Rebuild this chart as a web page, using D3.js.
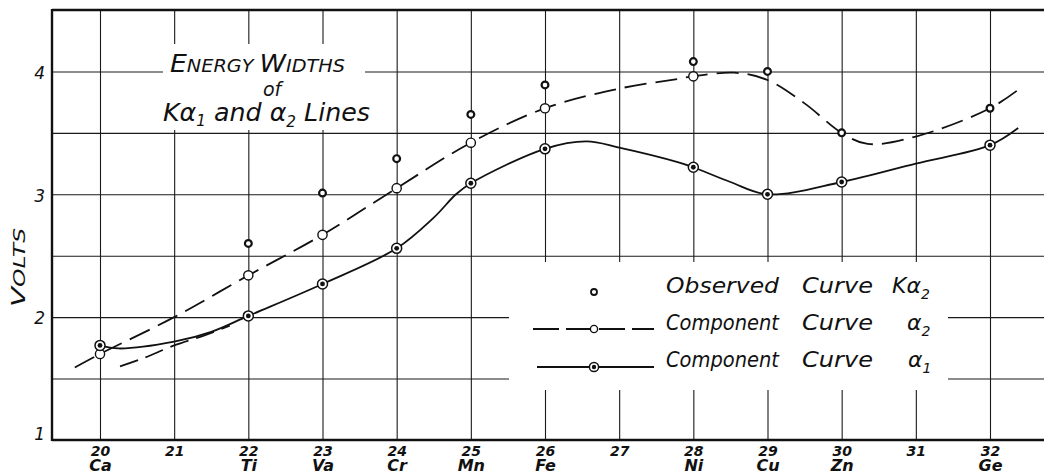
<!DOCTYPE html>
<html>
<head>
<meta charset="utf-8">
<script src="https://cdn.jsdelivr.net/npm/d3@7"></script>
<style>
body { margin: 0; background: #fff; }
svg { display: block; }
text { font-family: "DejaVu Sans", sans-serif; font-style: italic; fill: #111; }
</style>
</head>
<body>
<div class="container"></div>
<script>
// atomic numbers along the bottom and the element under each
var atomicNumbers = [20, 21, 22, 23, 24, 25, 26, 27, 28, 29, 30, 31, 32];
var symbols = ["Ca", "", "Ti", "Va", "Cr", "Mn", "Fe", "", "Ni", "Cu", "Zn", "", "Ge"];
var voltTicks = [1, 2, 3, 4];
var gridVolts = [1.5, 2, 2.5, 3, 3.5, 4];

// observed K alpha 2 widths
var observedZ = [22, 23, 24, 25, 26, 28, 29, 30, 32];
var observedV = [2.60, 3.01, 3.29, 3.65, 3.89, 4.08, 4.00, 3.50, 3.70];

// component alpha 2 points
var alpha2Z = [20, 22, 23, 24, 25, 26, 28];
var alpha2V = [1.70, 2.34, 2.67, 3.05, 3.42, 3.70, 3.96];

// component alpha 1 points
var alpha1Z = [20, 22, 23, 24, 25, 26, 28, 29, 30, 32];
var alpha1V = [1.77, 2.01, 2.27, 2.56, 3.09, 3.37, 3.22, 3.00, 3.10, 3.40];

// the drawn curves
var curve2Z = [19.66, 20, 21, 22, 23, 24, 25, 26, 27, 27.8, 28, 28.55, 29, 29.5, 30, 30.35, 31, 32, 32.4];
var curve2V = [1.59, 1.70, 2.00, 2.34, 2.67, 3.05, 3.42, 3.70, 3.86, 3.94, 3.96, 3.99, 3.93, 3.74, 3.50, 3.41, 3.47, 3.70, 3.86];
var curve2bZ = [20.27, 20.6, 21, 21.4, 21.75];
var curve2bV = [1.60, 1.67, 1.77, 1.85, 1.93];
var curve1Z = [20, 20.25, 21, 21.5, 22, 23, 24, 24.5, 24.8, 25, 26, 26.56, 27, 27.8, 28, 28.5, 29, 30, 31, 32, 32.38];
var curve1V = [1.77, 1.745, 1.80, 1.88, 2.01, 2.27, 2.56, 2.81, 3.00, 3.09, 3.37, 3.43, 3.38, 3.26, 3.22, 3.10, 3.00, 3.10, 3.25, 3.40, 3.54];

var W = 1044, H = 474;
var padL = 52, padT = 10, padB = 440, padR = 1044;

var svg = d3.select(".container").append("svg")
    .attr("width", W)
    .attr("height", H);

svg.append("rect").attr("width", W).attr("height", H).attr("fill", "#fff");

var x = d3.scaleLinear().domain([20, 32]).range([100, 990]);
var y = d3.scaleLinear().domain([1, 4.5]).range([padB, padT]);

function pairs(zs, vs) {
    return zs.map(function (z, i) { return [z, vs[i]]; });
}

// grid
svg.append("g")
    .attr("transform", "translate(0," + padB + ")")
    .call(d3.axisBottom(x).tickValues(atomicNumbers).tickSize(-(padB - padT)).tickFormat(""))
    .call(function (g) { g.select(".domain").remove(); })
    .selectAll("line").attr("stroke", "#1a1a1a").attr("stroke-width", 1.1);

svg.append("g")
    .attr("transform", "translate(" + padL + ",0)")
    .call(d3.axisLeft(y).tickValues(gridVolts).tickSize(-(padR - padL)).tickFormat(""))
    .call(function (g) { g.select(".domain").remove(); })
    .selectAll("line").attr("stroke", "#1a1a1a").attr("stroke-width", 1.1);

// white patches behind the title and the key
svg.append("rect").attr("x", 163).attr("y", 44).attr("width", 202).attr("height", 86).attr("fill", "#fff");
svg.append("rect").attr("x", 509).attr("y", 262).attr("width", 439).attr("height", 128).attr("fill", "#fff");

// frame
svg.append("line").attr("x1", padL).attr("x2", padL).attr("y1", padT - 1).attr("y2", padB + 1)
    .attr("stroke", "#111").attr("stroke-width", 2.4);
svg.append("line").attr("x1", padL).attr("x2", padR).attr("y1", padT).attr("y2", padT)
    .attr("stroke", "#111").attr("stroke-width", 2.4);
svg.append("line").attr("x1", padL).attr("x2", padR).attr("y1", padB).attr("y2", padB)
    .attr("stroke", "#111").attr("stroke-width", 2.4);

// curves
var line = d3.line()
    .x(function (d) { return x(d[0]); })
    .y(function (d) { return y(d[1]); })
    .curve(d3.curveCatmullRom.alpha(0.5));

svg.append("path").datum(pairs(curve2Z, curve2V))
    .attr("d", line).attr("fill", "none").attr("stroke", "#111")
    .attr("stroke-width", 1.8).attr("stroke-dasharray", "22,9");
svg.append("path").datum(pairs(curve2bZ, curve2bV))
    .attr("d", line).attr("fill", "none").attr("stroke", "#111")
    .attr("stroke-width", 1.8).attr("stroke-dasharray", "19,8");
svg.append("path").datum(pairs(curve1Z, curve1V))
    .attr("d", line).attr("fill", "none").attr("stroke", "#111")
    .attr("stroke-width", 1.8);

// points
svg.selectAll(".obs").data(pairs(observedZ, observedV)).enter().append("circle")
    .attr("class", "obs")
    .attr("cx", function (d) { return x(d[0]); })
    .attr("cy", function (d) { return y(d[1]); })
    .attr("r", 3.4).attr("fill", "#fff").attr("stroke", "#111").attr("stroke-width", 2.2);

svg.selectAll(".a2").data(pairs(alpha2Z, alpha2V)).enter().append("circle")
    .attr("class", "a2")
    .attr("cx", function (d) { return x(d[0]); })
    .attr("cy", function (d) { return y(d[1]); })
    .attr("r", 4.6).attr("fill", "#fff").attr("stroke", "#111").attr("stroke-width", 1.4);

var a1 = svg.selectAll(".a1").data(pairs(alpha1Z, alpha1V)).enter().append("g")
    .attr("class", "a1")
    .attr("transform", function (d) { return "translate(" + x(d[0]) + "," + y(d[1]) + ")"; });
a1.append("circle").attr("r", 5).attr("fill", "#fff").attr("stroke", "#111").attr("stroke-width", 1.5);
a1.append("circle").attr("r", 2.4).attr("fill", "#111");

// tick labels
var xNum = svg.append("g")
    .attr("transform", "translate(0," + padB + ")")
    .call(d3.axisBottom(x).tickValues(atomicNumbers).tickSize(0).tickPadding(6).tickFormat(d3.format("d")));
xNum.select(".domain").remove();
xNum.selectAll("text").attr("font-family", null).attr("font-size", 14).attr("font-weight", "bold");

var xSym = svg.append("g")
    .attr("transform", "translate(0," + padB + ")")
    .call(d3.axisBottom(x).tickValues(atomicNumbers).tickSize(0).tickPadding(20)
        .tickFormat(function (d, i) { return symbols[i]; }));
xSym.select(".domain").remove();
xSym.selectAll("text").attr("font-family", null).attr("font-size", 16).attr("font-weight", "bold");

var yNum = svg.append("g")
    .attr("transform", "translate(" + padL + ",0)")
    .call(d3.axisLeft(y).tickValues(voltTicks).tickSize(0).tickPadding(7).tickFormat(d3.format("d")));
yNum.select(".domain").remove();
yNum.selectAll("text").attr("font-family", null).attr("font-size", 17)
    .attr("dy", function (d) { return d === 1 ? "-0.05em" : "0.4em"; });

// axis title
var volts = svg.append("text")
    .attr("transform", "translate(25,307) rotate(-90)")
    .attr("textLength", 79).attr("lengthAdjust", "spacingAndGlyphs");
volts.append("tspan").attr("font-size", 20).text("V");
volts.append("tspan").attr("font-size", 16).text("OLTS");

// title
var t1 = svg.append("text").attr("x", 170).attr("y", 72)
    .attr("textLength", 175).attr("lengthAdjust", "spacingAndGlyphs");
t1.append("tspan").attr("font-size", 25).text("E");
t1.append("tspan").attr("font-size", 18).text("NERGY ");
t1.append("tspan").attr("font-size", 25).text("W");
t1.append("tspan").attr("font-size", 18).text("IDTHS");

svg.append("text").attr("x", 263).attr("y", 96).attr("font-size", 19).text("of");

var t3 = svg.append("text").attr("x", 163).attr("y", 121)
    .attr("textLength", 207).attr("lengthAdjust", "spacingAndGlyphs");
t3.append("tspan").attr("font-size", 25).text("Kα");
t3.append("tspan").attr("font-size", 15).attr("dy", 5).text("1");
t3.append("tspan").attr("font-size", 25).attr("dy", -5).text(" and α");
t3.append("tspan").attr("font-size", 15).attr("dy", 6).text("2");
t3.append("tspan").attr("font-size", 25).attr("dy", -6).text(" Lines");

// key
var key = svg.append("g");
var keyRows = [293, 330, 367];

key.append("circle").attr("cx", 594).attr("cy", 292).attr("r", 3)
    .attr("fill", "#fff").attr("stroke", "#111").attr("stroke-width", 1.8);

key.append("line").attr("x1", 533).attr("x2", 654).attr("y1", 329).attr("y2", 329)
    .attr("stroke", "#111").attr("stroke-width", 1.8).attr("stroke-dasharray", "26,7");
key.append("circle").attr("cx", 594).attr("cy", 329).attr("r", 3.6)
    .attr("fill", "#fff").attr("stroke", "#111").attr("stroke-width", 1.4);

key.append("line").attr("x1", 537).attr("x2", 654).attr("y1", 367).attr("y2", 367)
    .attr("stroke", "#111").attr("stroke-width", 1.8);
key.append("circle").attr("cx", 594).attr("cy", 367).attr("r", 4.6)
    .attr("fill", "#fff").attr("stroke", "#111").attr("stroke-width", 1.5);
key.append("circle").attr("cx", 594).attr("cy", 367).attr("r", 2.2).attr("fill", "#111");

var keyWords = [
    ["Observed", "Curve", "Kα", "2"],
    ["Component", "Curve", "α", "2"],
    ["Component", "Curve", "α", "1"]
];
var greekX = [892, 907, 908];

keyWords.forEach(function (w, i) {
    key.append("text").attr("x", 666).attr("y", keyRows[i]).attr("font-size", 22)
        .attr("textLength", 113).attr("lengthAdjust", "spacingAndGlyphs").text(w[0]);
    key.append("text").attr("x", 802).attr("y", keyRows[i]).attr("font-size", 22)
        .attr("textLength", 71).attr("lengthAdjust", "spacingAndGlyphs").text(w[1]);
    var g = key.append("text").attr("x", greekX[i]).attr("y", keyRows[i]).attr("font-size", 22);
    g.append("tspan").text(w[2]);
    g.append("tspan").attr("font-size", 14).attr("dy", 6).text(w[3]);
});
</script>
</body>
</html>
